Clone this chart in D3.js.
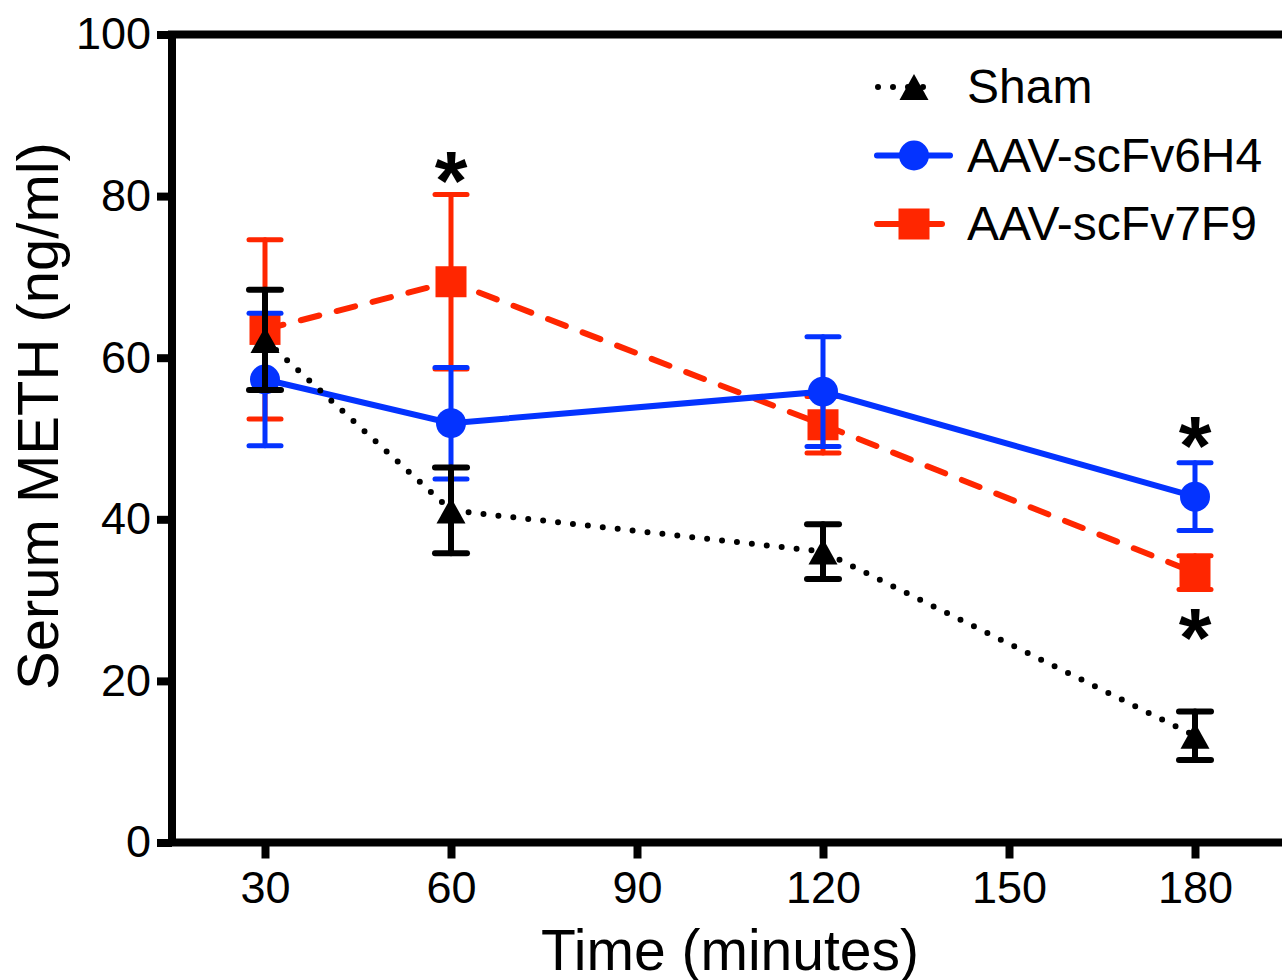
<!DOCTYPE html>
<html>
<head>
<meta charset="utf-8">
<script src="https://cdn.jsdelivr.net/npm/d3@7"></script>
<style>
  body { margin: 0; background: #fff; }
  svg { display: block; font-family: Arial, "Liberation Sans", Helvetica, sans-serif; }
</style>
</head>
<body>
<div id="chart"></div>
<script>
// values (mean +/- SEM)
var times = [30, 60, 120, 180];
var xTicks = [30, 60, 90, 120, 150, 180];
var yTicks = [0, 20, 40, 60, 80, 100];

var seriesNames = ["Sham", "AAV-scFv6H4", "AAV-scFv7F9"];
var shamMean = [62.2, 41.1, 36.0, 13.2];
var shamSem  = [6.2, 5.3, 3.4, 3.0];
var h4Mean   = [57.3, 51.9, 55.8, 42.8];
var h4Sem    = [8.2, 6.9, 6.8, 4.2];
var f9Mean   = [63.5, 69.4, 51.7, 33.4];
var f9Sem    = [11.1, 10.8, 3.5, 2.1];

// significance stars (time, level)
var starTimes  = [60, 180, 180];
var starLevels = [84.1, 51.3, 27.5];

var W = 1282, H = 980;
var blue = "#0433ff", red = "#ff2600";

var svg = d3.select("#chart").append("svg")
    .attr("width", W)
    .attr("height", H);

var x = d3.scaleLinear().domain([15, 195]).range([172, 1288]);
var y = d3.scaleLinear().domain([0, 100]).range([842.5, 34.5]);

// frame (left, top, bottom; right side falls off the page)
svg.append("path")
    .attr("d", "M" + (x(195) + 20) + "," + y(100) + "H" + x(15) + "V" + y(0) + "H" + (x(195) + 20))
    .attr("fill", "none")
    .attr("stroke", "#000")
    .attr("stroke-width", 8)
    .attr("stroke-linejoin", "miter");

// x axis
var gx = svg.append("g")
    .attr("transform", "translate(0," + y(0) + ")")
    .call(d3.axisBottom(x).tickValues(xTicks).tickSize(16).tickPadding(13).tickSizeOuter(0));
gx.select(".domain").remove();
gx.selectAll(".tick line").attr("stroke-width", 8).attr("stroke", "#000");
gx.selectAll(".tick text").attr("font-size", 45).attr("fill", "#000")
    .attr("font-family", "Arial, 'Liberation Sans', Helvetica, sans-serif");

// y axis
var gy = svg.append("g")
    .attr("transform", "translate(" + x(15) + ",0)")
    .call(d3.axisLeft(y).tickValues(yTicks).tickSize(15).tickPadding(6).tickSizeOuter(0));
gy.select(".domain").remove();
gy.selectAll(".tick line").attr("stroke-width", 8).attr("stroke", "#000");
gy.selectAll(".tick text").attr("font-size", 45).attr("fill", "#000")
    .attr("font-family", "Arial, 'Liberation Sans', Helvetica, sans-serif");

// axis titles
svg.append("text")
    .attr("x", (x(15) + x(195)) / 2)
    .attr("y", 970)
    .attr("text-anchor", "middle")
    .attr("font-size", 57)
    .text("Time (minutes)");

svg.append("text")
    .attr("transform", "translate(58,416) rotate(-90)")
    .attr("text-anchor", "middle")
    .attr("font-size", 58)
    .text("Serum METH (ng/ml)");

// triangle centred on its bounding box
function triPath(w, h) {
  return "M0," + (-h / 2) + "L" + (w / 2) + "," + (h / 2) + "L" + (-w / 2) + "," + (h / 2) + "Z";
}

function makeRows(means, sems) {
  return times.map(function(t, i) { return { t: t, m: means[i], s: sems[i] }; });
}

var series = [
  { name: seriesNames[2], rows: makeRows(f9Mean, f9Sem), color: red, dash: "19 18", lw: 6, ew: 5, shape: "square" },
  { name: seriesNames[1], rows: makeRows(h4Mean, h4Sem), color: blue, dash: null, lw: 6, ew: 5, shape: "circle" },
  { name: seriesNames[0], rows: makeRows(shamMean, shamSem), color: "#000", dash: "0 15", lw: 6, ew: 6, shape: "triangle" }
];

var line = d3.line()
    .x(function(d) { return x(d.t); })
    .y(function(d) { return y(d.m); });

function drawMarker(g, shape, color) {
  if (shape === "circle") {
    g.append("circle").attr("r", 15).attr("fill", color);
  } else if (shape === "square") {
    g.append("rect").attr("x", -15.5).attr("y", -15.5).attr("width", 31).attr("height", 31).attr("fill", color);
  } else {
    g.append("path").attr("d", triPath(29, 26)).attr("fill", color);
  }
}

series.forEach(function(s) {
  var g = svg.append("g");

  g.append("path")
      .datum(s.rows)
      .attr("d", line)
      .attr("fill", "none")
      .attr("stroke", s.color)
      .attr("stroke-width", s.lw)
      .attr("stroke-linecap", "round")
      .attr("stroke-dasharray", s.dash);

  // error bars
  var eb = g.selectAll(".eb")
    .data(s.rows)
    .enter()
    .append("g")
      .attr("stroke", s.color)
      .attr("stroke-width", s.ew)
      .attr("stroke-linecap", "round");
  eb.append("line")
      .attr("x1", function(d) { return x(d.t); })
      .attr("x2", function(d) { return x(d.t); })
      .attr("y1", function(d) { return y(d.m + d.s); })
      .attr("y2", function(d) { return y(d.m - d.s); });
  [1, -1].forEach(function(sign) {
    eb.append("line")
        .attr("x1", function(d) { return x(d.t) - 16; })
        .attr("x2", function(d) { return x(d.t) + 16; })
        .attr("y1", function(d) { return y(d.m + sign * d.s); })
        .attr("y2", function(d) { return y(d.m + sign * d.s); });
  });

  // markers
  g.selectAll(".mk")
    .data(s.rows)
    .enter()
    .append("g")
      .attr("transform", function(d) { return "translate(" + x(d.t) + "," + y(d.m) + ")"; })
      .each(function() { drawMarker(d3.select(this), s.shape, s.color); });
});

// stars
svg.selectAll(".star")
  .data(starTimes)
  .enter()
  .append("text")
    .attr("x", function(d) { return x(d); })
    .attr("y", function(d, i) { return y(starLevels[i]) + 0.56 * 84; })
    .attr("text-anchor", "middle")
    .attr("font-size", 84)
    .attr("font-weight", "bold")
    .text("*");

// legend
var legendOrder = [series[2], series[1], series[0]];
var lg = svg.selectAll(".lg")
  .data(legendOrder)
  .enter()
  .append("g")
    .attr("transform", function(d, i) { return "translate(0," + (87 + i * 68.5) + ")"; });

lg.append("line")
    .attr("x1", function(d) { return d.shape === "triangle" ? 878 : 877; })
    .attr("x2", function(d) { return d.shape === "triangle" ? 938 : (d.shape === "circle" ? 950 : 942); })
    .attr("stroke", function(d) { return d.color; })
    .attr("stroke-width", 6)
    .attr("stroke-linecap", "round")
    .attr("stroke-dasharray", function(d) { return d.shape === "square" ? null : d.dash; });

lg.append("g")
    .attr("transform", "translate(914,0)")
    .each(function(d) { drawMarker(d3.select(this), d.shape, d.color); });

lg.append("text")
    .attr("x", 967)
    .attr("y", 16)
    .attr("font-size", 48)
    .text(function(d) { return d.name; });
</script>
</body>
</html>
